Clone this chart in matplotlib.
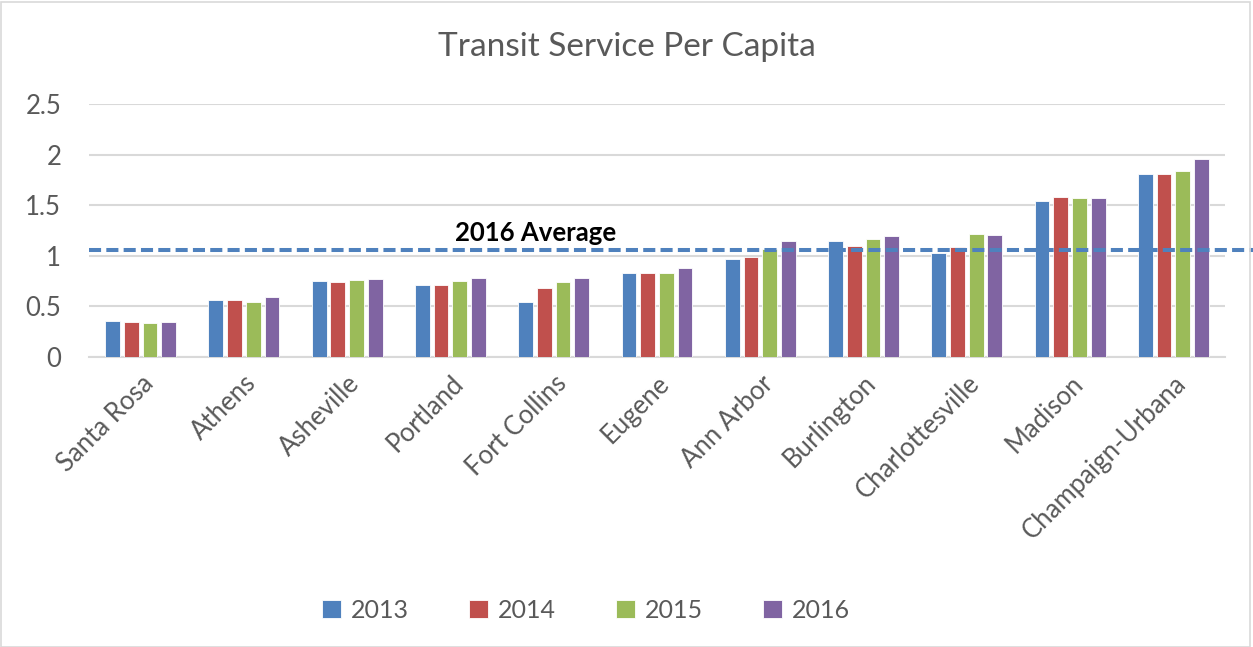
import matplotlib
matplotlib.use("Agg")
import matplotlib.pyplot as plt
import numpy as np
from matplotlib.patches import Rectangle

cities = ["Santa Rosa", "Athens", "Asheville", "Portland", "Fort Collins", "Eugene",
          "Ann Arbor", "Burlington", "Charlottesville", "Madison", "Champaign-Urbana"]
years = ["2013", "2014", "2015", "2016"]
v2013 = [0.35, 0.56, 0.75, 0.71, 0.54, 0.83, 0.97, 1.14, 1.03, 1.54, 1.81]
v2014 = [0.34, 0.56, 0.74, 0.71, 0.68, 0.83, 0.99, 1.10, 1.09, 1.58, 1.81]
v2015 = [0.33, 0.54, 0.76, 0.75, 0.74, 0.83, 1.07, 1.16, 1.21, 1.57, 1.84]
v2016 = [0.34, 0.59, 0.77, 0.78, 0.78, 0.88, 1.14, 1.19, 1.20, 1.57, 1.96]
avg_2016 = 1.06
series = [v2013, v2014, v2015, v2016]
colors = ["#4F81BD", "#C0504D", "#9BBB59", "#8064A2"]

plt.rcParams['font.family'] = ['Lato', 'DejaVu Sans']
text_gray = "#595959"
grid_gray = "#D9D9D9"

fig = plt.figure(figsize=(12.53, 6.47), dpi=100)
ax = fig.add_axes([89/1253, 1 - 356.7/647, (1225 - 89)/1253, (356.7 - 104)/647])

x = np.arange(len(cities))
step = 0.181
width = 0.143
for i, (vals, col, yr) in enumerate(zip(series, colors, years)):
    ax.bar(x + (i - 1.5) * step, vals, width=width, color=col, label=yr,
           edgecolor="white", linewidth=0.6, zorder=3)

ax.set_xlim(-0.5, len(cities) - 0.5)
ax.set_ylim(0, 2.5)
ax.set_yticks([0, 0.5, 1, 1.5, 2, 2.5])
ax.set_yticklabels(["0", "0.5", "1", "1.5", "2", "2.5"])
ax.yaxis.grid(True, color=grid_gray, linewidth=1.5, zorder=0)
ax.set_axisbelow(True)
for s in ["top", "right", "left"]:
    ax.spines[s].set_visible(False)
ax.spines["bottom"].set_color(grid_gray)
ax.spines["bottom"].set_linewidth(1.5)
ax.tick_params(axis="both", length=0, labelsize=18.5, colors=text_gray)
ax.tick_params(axis="y", pad=20)
ax.set_xticks(x)
ax.set_xticklabels(cities, rotation=45, ha="right", rotation_mode="anchor")
ax.tick_params(axis="x", pad=10)

# 2016 average reference line, running past the right edge of the plot
ax.plot([-0.5, 11.72], [avg_2016, avg_2016], color="#4F81BD", linewidth=2.9,
        linestyle=(0, (3.0, 1.3)), clip_on=False, zorder=4)
ax.text(3.04, avg_2016 + 0.045, "2016 Average", fontsize=18.5, fontweight="bold",
        color="black", ha="left", va="bottom", zorder=5)

fig.text(0.5, 1 - 47/647, "Transit Service Per Capita", ha="center", va="center",
         fontsize=24, color=text_gray)

leg = fig.legend(loc="center", bbox_to_anchor=(586/1253, 1 - 610/647), ncol=4,
                 frameon=False, fontsize=18, handlelength=0.75, handleheight=0.75,
                 handletextpad=0.4, columnspacing=2.4, labelcolor=text_gray)

fig.patches.append(Rectangle((1/1253, 0), 1249/1253, 1 - 2/647, transform=fig.transFigure,
                             fill=False, edgecolor=grid_gray, linewidth=1.2))

fig.savefig("out.png", dpi=100)
